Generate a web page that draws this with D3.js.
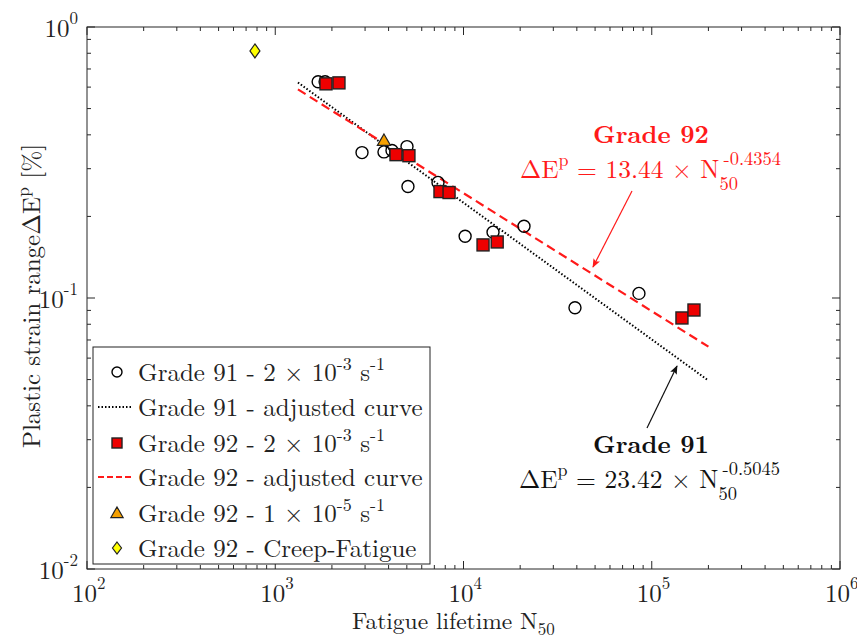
<!DOCTYPE html>
<html>
<head>
<meta charset="utf-8">
<script src="https://cdn.jsdelivr.net/npm/d3@7"></script>
<style>
  body { margin: 0; background: #fff; }
</style>
</head>
<body>
<svg id="chart" width="857" height="643"></svg>
<script>
// Grade 91 - 2e-3 s-1 (open circles)
var g91N = [1690, 1840, 2890, 3780, 4170, 5010, 5070, 7320, 10200, 14350, 20960, 39100, 85500];
var g91E = [0.628, 0.628, 0.344, 0.346, 0.350, 0.362, 0.258, 0.267, 0.169, 0.175, 0.184, 0.092, 0.104];
// Grade 92 - 2e-3 s-1 (red squares)
var g92N = [1860, 2180, 4380, 5130, 7500, 8380, 12700, 15100, 144700, 167600];
var g92E = [0.617, 0.622, 0.338, 0.335, 0.247, 0.245, 0.157, 0.161, 0.0844, 0.0903];
// Grade 92 - 1e-5 s-1 (triangle) and creep-fatigue (diamond)
var slowN = [3780], slowE = [0.381];
var cfN = [780], cfE = [0.816];
// fitted curves  dE = A * N^b
var fit91 = {A: 23.42, b: -0.5045};
var fit92 = {A: 13.44, b: -0.4354};
var fitRange = [1320, 200000];
var xTicks = [1e2, 1e3, 1e4, 1e5, 1e6];
var xTickExp = ["2", "3", "4", "5", "6"];
var yTicks = [1, 0.1, 0.01];
var yTickExp = ["0", "-1", "-2"];

var FONT = "'Latin Modern Roman', 'CMU Serif', 'Liberation Serif', serif";
var FS = 25, SS = 18;

var svg = d3.select("#chart"),
	margin = {top: 27, right: 17, bottom: 74, left: 87},
	width = 857 - margin.left - margin.right,
	height = 643 - margin.top - margin.bottom;

var x = d3.scaleLog().domain([1e2, 1e6]).range([0, width]);
var y = d3.scaleLog().domain([1e-2, 1]).range([height, 0]);

var g = svg.append("g").attr("transform", "translate(" + margin.left + "," + margin.top + ")");

function zip(a, b) { return a.map(function(d, i) { return [d, b[i]]; }); }
function txt(sel) { return sel.append("text").style("font-family", FONT); }

// fitted curves
function curve(f) {
	return d3.line()
		.x(function(d) { return x(d); })
		.y(function(d) { return y(f.A * Math.pow(d, f.b)); })(fitRange);
}
g.append("path").attr("d", curve(fit91))
	.attr("fill", "none").attr("stroke", "#000").attr("stroke-width", 2)
	.attr("stroke-dasharray", "1.5,2");
g.append("path").attr("d", curve(fit92))
	.attr("fill", "none").attr("stroke", "#ff1a1a").attr("stroke-width", 2.2)
	.attr("stroke-dasharray", "9,5");

// markers
g.selectAll(".c91").data(zip(g91N, g91E)).enter().append("circle")
	.attr("cx", function(d) { return x(d[0]); })
	.attr("cy", function(d) { return y(d[1]); })
	.attr("r", 6).attr("fill", "none").attr("stroke", "#000").attr("stroke-width", 1.4);

g.selectAll(".s92").data(zip(g92N, g92E)).enter().append("rect")
	.attr("x", function(d) { return x(d[0]) - 6; })
	.attr("y", function(d) { return y(d[1]) - 6; })
	.attr("width", 12).attr("height", 12)
	.attr("fill", "#ee0000").attr("stroke", "#222").attr("stroke-width", 1.4);

var tri = d3.symbol().type(d3.symbolTriangle).size(75);
g.selectAll(".t92").data(zip(slowN, slowE)).enter().append("path")
	.attr("d", tri)
	.attr("transform", function(d) { return "translate(" + x(d[0]) + "," + (y(d[1]) + 1) + ")"; })
	.attr("fill", "#f5a000").attr("stroke", "#222").attr("stroke-width", 1.2);

g.selectAll(".d92").data(zip(cfN, cfE)).enter().append("path")
	.attr("d", "M0,-7L5,0L0,7L-5,0Z")
	.attr("transform", function(d) { return "translate(" + x(d[0]) + "," + y(d[1]) + ")"; })
	.attr("fill", "#ffff00").attr("stroke", "#222").attr("stroke-width", 1.2);

// axes box with inside ticks on all sides
var axisColor = "#262626";
function minorTicks(scale) {
	var d = scale.domain(), out = [];
	for (var e = Math.log10(d[0]); e < Math.log10(d[1]); e++) {
		for (var k = 2; k <= 9; k++) out.push(k * Math.pow(10, e));
	}
	return out;
}
var tk = g.append("g").attr("stroke", axisColor).attr("stroke-width", 1);
minorTicks(x).forEach(function(v) {
	tk.append("line").attr("x1", x(v)).attr("x2", x(v)).attr("y1", height).attr("y2", height - 4);
	tk.append("line").attr("x1", x(v)).attr("x2", x(v)).attr("y1", 0).attr("y2", 4);
});
xTicks.forEach(function(v) {
	tk.append("line").attr("x1", x(v)).attr("x2", x(v)).attr("y1", height).attr("y2", height - 8);
	tk.append("line").attr("x1", x(v)).attr("x2", x(v)).attr("y1", 0).attr("y2", 8);
});
minorTicks(y).forEach(function(v) {
	tk.append("line").attr("y1", y(v)).attr("y2", y(v)).attr("x1", 0).attr("x2", 4);
	tk.append("line").attr("y1", y(v)).attr("y2", y(v)).attr("x1", width).attr("x2", width - 4);
});
yTicks.forEach(function(v) {
	tk.append("line").attr("y1", y(v)).attr("y2", y(v)).attr("x1", 0).attr("x2", 8);
	tk.append("line").attr("y1", y(v)).attr("y2", y(v)).attr("x1", width).attr("x2", width - 8);
});
g.append("rect").attr("width", width).attr("height", height)
	.attr("fill", "none").attr("stroke", axisColor).attr("stroke-width", 1);

// tick labels
xTicks.forEach(function(v, i) {
	var t = txt(g).attr("x", x(v) - 15).attr("y", height + 33)
		.attr("font-size", 25).attr("fill", "#222");
	t.append("tspan").text("10");
	t.append("tspan").attr("dy", -13).attr("font-size", 17).text(xTickExp[i]);
});
yTicks.forEach(function(v, i) {
	var t = txt(g).attr("x", -9).attr("y", y(v) + 10)
		.attr("text-anchor", "end").attr("font-size", 25).attr("fill", "#222");
	t.append("tspan").text("10");
	t.append("tspan").attr("dy", -13).attr("font-size", 17).text(yTickExp[i]);
});

// axis titles
var xl = txt(svg).attr("x", 352).attr("y", 629)
	.attr("font-size", 23.5).attr("fill", "#222");
xl.append("tspan").text("Fatigue lifetime N");
xl.append("tspan").attr("dy", 6).attr("font-size", 17).text("50");

var yl = txt(svg).attr("transform", "translate(40,296) rotate(-90)")
	.attr("text-anchor", "middle").attr("font-size", 25).attr("fill", "#222");
yl.append("tspan").text("Plastic strain range\u0394E");
yl.append("tspan").attr("dy", -11).attr("font-size", 18).text("p");
yl.append("tspan").attr("dy", 11).text(" [%]");

// annotations
function eqn(xp, yp, coef, expo, col) {
	var t = txt(svg).attr("x", xp).attr("y", yp).attr("font-size", 25.5).attr("fill", col);
	t.append("tspan").text("\u0394E");
	t.append("tspan").attr("dy", -12).attr("font-size", SS).text("p");
	t.append("tspan").attr("dy", 12).text(" = " + coef + " \u00d7 N");
	var sx = t.node().getComputedTextLength() + xp;
	txt(svg).attr("x", sx).attr("y", yp + 12).attr("font-size", 18.5).attr("fill", col).text("50");
	txt(svg).attr("x", sx + 4).attr("y", yp - 13).attr("font-size", 18.5).attr("fill", col).text(expo);
}
txt(svg).attr("x", 651).attr("y", 143).attr("text-anchor", "middle")
	.attr("font-size", 25).attr("font-weight", "bold").attr("fill", "#ff1a1a").text("Grade 92");
eqn(520, 178, "13.44", "-0.4354", "#ff1a1a");
txt(svg).attr("x", 651).attr("y", 453).attr("text-anchor", "middle")
	.attr("font-size", 25).attr("font-weight", "bold").attr("fill", "#111").text("Grade 91");
eqn(519, 488, "23.42", "-0.5045", "#111");

// arrows
var defs = svg.append("defs");
[["ar", "#ff1a1a"], ["ab", "#111"]].forEach(function(a) {
	defs.append("marker").attr("id", a[0]).attr("viewBox", "0 0 10 10")
		.attr("refX", 9).attr("refY", 5).attr("markerWidth", 9).attr("markerHeight", 9)
		.attr("orient", "auto").attr("markerUnits", "userSpaceOnUse")
		.append("path").attr("d", "M0,1L10,5L0,9L2,5Z").attr("fill", a[1]);
});
svg.append("line").attr("x1", 632).attr("y1", 191).attr("x2", 593).attr("y2", 267)
	.attr("stroke", "#ff1a1a").attr("stroke-width", 1.2).attr("marker-end", "url(#ar)");
svg.append("line").attr("x1", 647).attr("y1", 428).attr("x2", 677).attr("y2", 366)
	.attr("stroke", "#111").attr("stroke-width", 1.2).attr("marker-end", "url(#ab)");

// legend
var lg = svg.append("g").attr("transform", "translate(93,347)");
lg.append("rect").attr("width", 337).attr("height", 217)
	.attr("fill", "#fff").attr("stroke", "#222").attr("stroke-width", 1);
var rows = [25, 60, 96, 130, 166, 201];
function legText(i, parts) {
	var t = txt(lg).attr("x", 45).attr("y", rows[i] + 9).attr("font-size", FS).attr("fill", "#222");
	parts.forEach(function(p) {
		var s = t.append("tspan").text(p[0]);
		if (p[1]) s.attr("dy", p[1]);
		if (p[2]) s.attr("font-size", p[2]);
	});
}
lg.append("circle").attr("cx", 24).attr("cy", rows[0]).attr("r", 5)
	.attr("fill", "none").attr("stroke", "#000").attr("stroke-width", 1.4);
legText(0, [["Grade 91 - 2 \u00d7 10"], ["-3", -11, SS], [" s", 11], ["-1", -11, SS]]);
lg.append("line").attr("x1", 5).attr("x2", 40).attr("y1", rows[1]).attr("y2", rows[1])
	.attr("stroke", "#000").attr("stroke-width", 2).attr("stroke-dasharray", "1.5,2");
legText(1, [["Grade 91 - adjusted curve"]]);
lg.append("rect").attr("x", 19).attr("y", rows[2] - 5).attr("width", 10).attr("height", 10)
	.attr("fill", "#ee0000").attr("stroke", "#222").attr("stroke-width", 1.4);
legText(2, [["Grade 92 - 2 \u00d7 10"], ["-3", -11, SS], [" s", 11], ["-1", -11, SS]]);
lg.append("line").attr("x1", 5).attr("x2", 40).attr("y1", rows[3]).attr("y2", rows[3])
	.attr("stroke", "#ff1a1a").attr("stroke-width", 2).attr("stroke-dasharray", "6,3");
legText(3, [["Grade 92 - adjusted curve"]]);
lg.append("path").attr("d", d3.symbol().type(d3.symbolTriangle).size(65))
	.attr("transform", "translate(24," + (rows[4] + 1) + ")")
	.attr("fill", "#f5a000").attr("stroke", "#222").attr("stroke-width", 1.2);
legText(4, [["Grade 92 - 1 \u00d7 10"], ["-5", -11, SS], [" s", 11], ["-1", -11, SS]]);
lg.append("path").attr("d", "M0,-6L4.5,0L0,6L-4.5,0Z")
	.attr("transform", "translate(24," + rows[5] + ")")
	.attr("fill", "#ffff00").attr("stroke", "#222").attr("stroke-width", 1.2);
legText(5, [["Grade 92 - Creep-Fatigue"]]);
</script>
</body>
</html>
